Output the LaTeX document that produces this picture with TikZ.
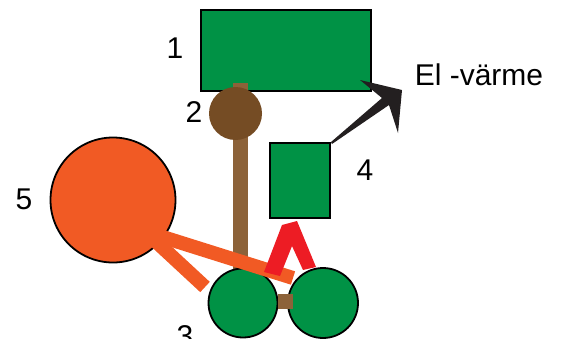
\documentclass[tikz,border=0pt]{standalone}
\usepackage{fontspec}
\setmainfont{Liberation Sans}
\definecolor{gr}{HTML}{009245}
\definecolor{brc}{HTML}{754C24}
\definecolor{brr}{HTML}{8C6239}
\definecolor{org}{HTML}{F15A24}
\definecolor{rd}{HTML}{ED1C24}
\definecolor{arr}{HTML}{231F20}
\tikzset{
  box/.style={draw=black, line width=1.8pt, fill=gr, rectangle, inner sep=0pt},
  wheel/.style={draw=black, line width=1.8pt, fill=gr, circle, inner sep=0pt, minimum size=69pt},
  num/.style={font=\fontsize{30}{30}\selectfont, inner sep=0pt},
  band/.style={draw=org, line width=14pt, line cap=butt},
}
\begin{document}
\begin{tikzpicture}[x=1pt,y=-1pt]
\useasboundingbox (0,0) rectangle (561,338);
\clip (0,0) rectangle (561,338);
% 1
\node[box, minimum width=170pt, minimum height=81pt] (r1) at (286,50.5) {};
% rod and 2
\coordinate (rodtop) at (240.5,83);
\coordinate (rodbot) at (240.5,273);
\draw[brr, line width=15pt] (rodtop) -- (rodbot);
\node[circle, fill=brc, inner sep=0pt, minimum size=53pt] (c2) at (235.5,113.5) {};
% 4
\node[box, minimum width=60pt, minimum height=75pt] (r4) at (300,180.5) {};
% arrow
\fill[arr] (r4.north east) -- (382,98) -- (360,80) -- (402,90) -- (398,133) -- (389,105) -- (332,144) -- cycle;
\node[font=\fontsize{30}{30}\selectfont, inner sep=0pt, anchor=base] (el) at (479,85) {El -värme};
% wheels 3
\node[wheel] (w1) at (243,303) {};
\node[wheel, minimum size=70pt] (w2) at (323,303) {};
\fill[brr] (278,294) rectangle (293,309);
% 5
\node[circle, draw=black, line width=1.8pt, fill=org, inner sep=0pt, minimum size=125pt] (c5) at (113,200) {};
\coordinate (b1s) at (150,233);
\coordinate (b1e) at (293,278);
\coordinate (b2s) at (150,236);
\coordinate (b2e) at (205,287);
\draw[band] (b1s) -- (b1e);
\draw[band] (b2s) -- (b2e);
% red V
\fill[rd] (264,272) -- (282,225) -- (297,221) -- (316,267) -- (303,270) -- (292,246) -- (280,276) -- cycle;
% labels
\node[num] (l1) at (175,48) {1};
\node[num] (l2) at (194,112) {2};
\node[num] (l4) at (365,170) {4};
\node[num] (l5) at (24,199) {5};
\node[num] (l3) at (185,336) {3};
\end{tikzpicture}
\end{document}
